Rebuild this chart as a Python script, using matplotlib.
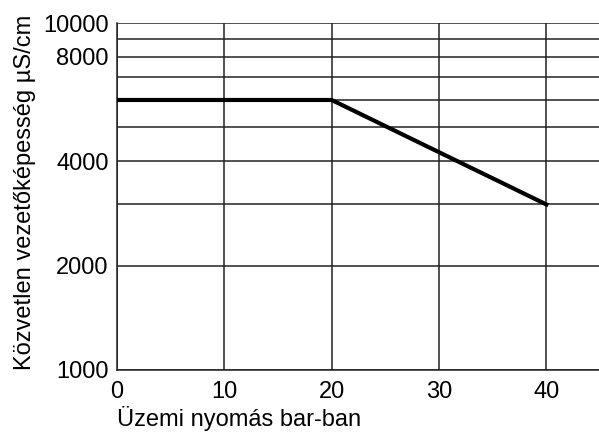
import matplotlib
matplotlib.use("Agg")
import matplotlib.pyplot as plt
from matplotlib.ticker import FixedLocator, FixedFormatter, NullLocator

# pressure (bar) vs. max. direct conductivity (uS/cm)
pressure = [0, 20, 40]
conductivity = [6000, 6000, 3000]

x_ticks = [0, 10, 20, 30, 40]
y_grid = [1000, 2000, 3000, 4000, 5000, 6000, 7000, 8000, 9000, 10000]
y_labels = ["1000", "2000", "", "4000", "", "", "", "8000", "", "10000"]

plt.rcParams['font.family'] = ['Liberation Sans', 'DejaVu Sans']

fig = plt.figure(figsize=(5.99, 4.34), dpi=100)
ax = fig.add_axes([117 / 599, 1 - 370 / 434, 483 / 599, 347 / 434])

ax.plot(pressure, conductivity, color='black', linewidth=3.0, zorder=3)

ax.set_yscale('log')
ax.set_xlim(0, 45)
ax.set_ylim(1000, 10000)

ax.xaxis.set_major_locator(FixedLocator(x_ticks))
ax.yaxis.set_major_locator(FixedLocator(y_grid))
ax.yaxis.set_major_formatter(FixedFormatter(y_labels))
ax.yaxis.set_minor_locator(NullLocator())

ax.grid(True, color='#222222', linewidth=1.1)
ax.tick_params(length=0, labelsize=17, colors='black', pad=6)
ax.tick_params(axis='x', pad=8)

for s in ['top', 'right']:
    ax.spines[s].set_visible(False)
for s in ['left', 'bottom']:
    ax.spines[s].set_linewidth(1.1)
    ax.spines[s].set_color('#222222')

ax.set_xlabel('Üzemi nyomás bar-ban', fontsize=17, loc='left', labelpad=2)
ax.set_ylabel('Közvetlen vezetőképesség µS/cm', fontsize=17, loc='bottom', labelpad=5)

fig.savefig('out.png', dpi=100)
